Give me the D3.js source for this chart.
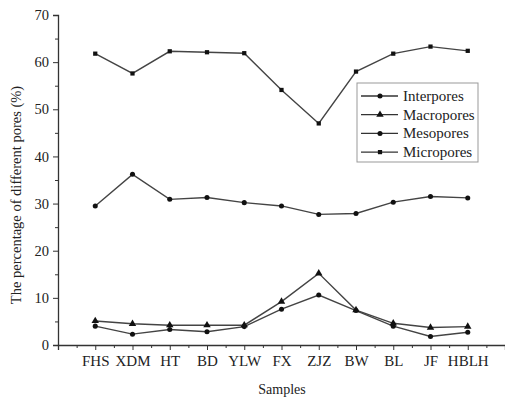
<!DOCTYPE html>
<html><head><meta charset="utf-8">
<script src="https://cdn.jsdelivr.net/npm/d3@7/dist/d3.min.js"></script>
<style>body{margin:0;background:#fff}svg{display:block}text{font-family:"Liberation Serif","Times New Roman",serif;fill:#222}</style>
</head><body>
<script>
const samples = ["FHS","XDM","HT","BD","YLW","FX","ZJZ","BW","BL","JF","HBLH"];
const interpores  = [4.0, 2.3, 3.3, 2.8, 3.9, 7.6, 10.6, 7.3, 4.0, 1.8, 2.7];
const macropores  = [5.1, 4.5, 4.2, 4.2, 4.2, 9.2, 15.2, 7.4, 4.6, 3.7, 3.9];
const mesopores   = [29.5, 36.2, 30.9, 31.3, 30.2, 29.5, 27.7, 27.9, 30.3, 31.5, 31.2];
const micropores  = [61.8, 57.6, 62.3, 62.1, 61.9, 54.1, 47.0, 58.0, 61.8, 63.3, 62.4];
const seriesNames = ["Interpores","Macropores","Mesopores","Micropores"];
const yTicks = [0,10,20,30,40,50,60,70];

const W=505,H=400;
const svg=d3.select("body").append("svg").attr("width",W).attr("height",H);
const x=d3.scaleLinear().domain([-1,11]).range([58,505]);
const y=d3.scaleLinear().domain([0,70]).range([345,15]);
const col="#333";

const series=[
  {name:seriesNames[0],vals:interpores,sym:d3.symbolCircle,size:20},
  {name:seriesNames[1],vals:macropores,sym:d3.symbolTriangle,size:24},
  {name:seriesNames[2],vals:mesopores,sym:d3.symbolCircle,size:20},
  {name:seriesNames[3],vals:micropores,sym:d3.symbolSquare,size:18}
];

// y axis
const yAxis=d3.axisLeft(y).tickValues(yTicks).tickSize(5).tickPadding(4).tickFormat(d3.format("d"));
const gy=svg.append("g").attr("transform","translate(58,0)").call(yAxis);
gy.selectAll("text").style("font-size","14.5px").attr("fill","#333");
gy.select(".domain").attr("stroke",col).attr("stroke-width",1.3);
gy.selectAll(".tick line").attr("stroke",col);
const yMinor=d3.axisLeft(y).tickValues(d3.range(5,70,10)).tickSize(3).tickFormat("");
const gym=svg.append("g").attr("transform","translate(58,0)").call(yMinor);
gym.select(".domain").remove(); gym.selectAll("line").attr("stroke",col);

// x axis
const xAxis=d3.axisBottom(x).tickValues(d3.range(0,11)).tickSize(5).tickPadding(5).tickFormat(i=>samples[i]);
const gx=svg.append("g").attr("transform","translate(0,345)").call(xAxis);
gx.selectAll("text").style("font-size","15px").attr("fill","#333");
gx.select(".domain").attr("stroke",col).attr("stroke-width",1.3);
gx.selectAll(".tick line").attr("stroke",col);
const xMinor=d3.axisBottom(x).tickValues(d3.range(-0.5,11,1)).tickSize(3).tickFormat("");
const gxm=svg.append("g").attr("transform","translate(0,345)").call(xMinor);
gxm.select(".domain").remove(); gxm.selectAll("line").attr("stroke",col);

// titles
svg.append("text").attr("x",282).attr("y",394).attr("text-anchor","middle").style("font-size","14px").text("Samples");
svg.append("text").attr("transform","translate(21,195) rotate(-90)").attr("text-anchor","middle").style("font-size","14.5px").text("The percentage of different pores (%)");

// lines
const line=d3.line().x((d,i)=>x(i)).y(d=>y(d));
series.forEach(s=>{
  svg.append("path").datum(s.vals).attr("d",line).attr("fill","none").attr("stroke","#444").attr("stroke-width",1.4);
  svg.selectAll(null).data(s.vals).enter().append("path")
    .attr("transform",(d,i)=>`translate(${x(i)},${y(d)})`)
    .attr("d",d3.symbol().type(s.sym).size(s.size)).attr("fill","#111");
});

// legend
const lg=svg.append("g");
lg.append("rect").attr("x",357).attr("y",83).attr("width",121).attr("height",79).attr("fill","#fff").attr("stroke","#999").attr("stroke-width",1);
series.forEach((s,k)=>{
  const yy=96+k*18.7;
  lg.append("line").attr("x1",361).attr("x2",398).attr("y1",yy).attr("y2",yy).attr("stroke","#333").attr("stroke-width",1.3);
  lg.append("path").attr("transform",`translate(380,${yy})`).attr("d",d3.symbol().type(s.sym).size(s.size)).attr("fill","#111");
  lg.append("text").attr("x",403).attr("y",yy+5).style("font-size","15px").text(s.name);
});
</script>
</body></html>
